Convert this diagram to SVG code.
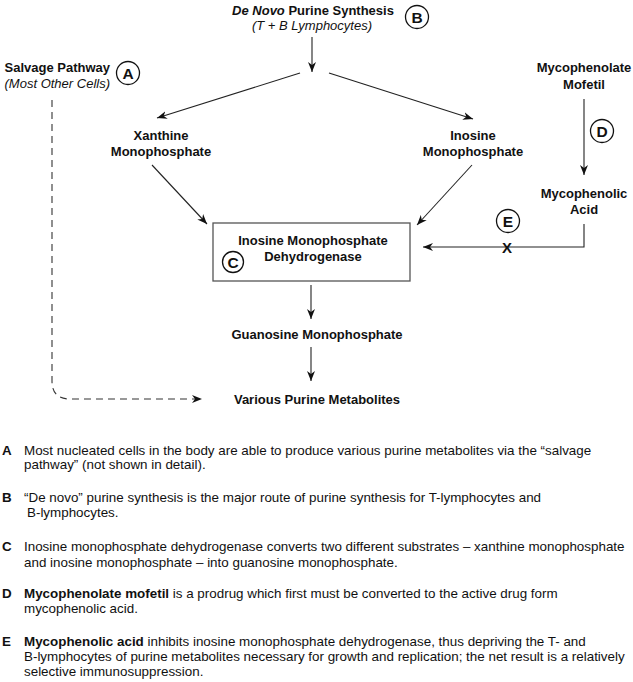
<svg xmlns="http://www.w3.org/2000/svg" width="633" height="682" viewBox="0 0 633 682">
<style>
text{font-family:"Liberation Sans",Arial,sans-serif;fill:#111}
.lb{font-size:13px;font-weight:bold}
.it{font-size:13px;font-style:italic}
.bd{font-size:13.4px}
.bl{font-size:13.4px;font-weight:bold}
.cl{font-size:15.5px;font-weight:bold;text-anchor:middle}
.mid{text-anchor:middle}
.circ{fill:#fff;stroke:#111;stroke-width:1.3}
.ln{fill:none;stroke:#222;stroke-width:1.1}
.dash{fill:none;stroke:#333;stroke-width:1.1;stroke-dasharray:7 5}
</style>
<defs>
<marker id="ah" viewBox="0 0 10 8" refX="10" refY="4" markerWidth="10" markerHeight="8" markerUnits="userSpaceOnUse" orient="auto">
<path d="M0,0 L10,4 L0,8 L3,4 z" fill="#111"/>
</marker>
</defs>
<g id="connectors">
<line class="ln" x1="312" y1="37" x2="312" y2="72" marker-end="url(#ah)"/>
<line class="ln" x1="300" y1="73" x2="157" y2="118" marker-end="url(#ah)"/>
<line class="ln" x1="329" y1="73" x2="473" y2="119" marker-end="url(#ah)"/>
<line class="ln" x1="152" y1="165" x2="207" y2="224" marker-end="url(#ah)"/>
<line class="ln" x1="472" y1="165" x2="417" y2="225" marker-end="url(#ah)"/>
<line class="ln" x1="584" y1="99" x2="584" y2="175" marker-end="url(#ah)"/>
<polyline class="ln" points="584,224 584,247 423,247" marker-end="url(#ah)"/>
<line class="ln" x1="311" y1="285" x2="311" y2="319" marker-end="url(#ah)"/>
<line class="ln" x1="311" y1="347" x2="311" y2="381" marker-end="url(#ah)"/>
<path class="dash" d="M52,100 L52,381 Q52,399 70,399 L202,399" marker-end="url(#ah)"/>
<text class="lb" x="507" y="253" style="font-size:15px" text-anchor="middle">X</text>
</g>
<g id="denovo">
<text class="lb mid" x="313" y="15"><tspan font-style="italic">De Novo</tspan> Purine Synthesis</text>
<text class="it mid" x="312" y="30">(T + B Lymphocytes)</text>
<circle class="circ" cx="417" cy="17" r="11.5"/>
<text class="cl" x="417" y="22.5">B</text>
</g>
<g id="salvage">
<text class="lb" x="110" y="72" text-anchor="end">Salvage Pathway</text>
<text class="it" x="110" y="88" text-anchor="end">(Most Other Cells)</text>
<circle class="circ" cx="128" cy="73" r="11.5"/>
<text class="cl" x="128" y="78.5">A</text>
</g>
<g id="mmf">
<text class="lb mid" x="584" y="72">Mycophenolate</text>
<text class="lb mid" x="584" y="89">Mofetil</text>
<circle class="circ" cx="602" cy="131" r="11.5"/>
<text class="cl" x="602" y="136.5">D</text>
</g>
<g id="xmp">
<text class="lb mid" x="161" y="140">Xanthine</text>
<text class="lb mid" x="161" y="156">Monophosphate</text>
</g>
<g id="imp">
<text class="lb mid" x="473" y="140">Inosine</text>
<text class="lb mid" x="473" y="156">Monophosphate</text>
</g>
<g id="mpa">
<text class="lb mid" x="584" y="198">Mycophenolic</text>
<text class="lb mid" x="584" y="214">Acid</text>
<circle class="circ" cx="508" cy="221" r="11.5"/>
<text class="cl" x="508" y="226.5">E</text>
</g>
<g id="impdh">
<rect x="213" y="223" width="197" height="58" fill="#fff" stroke="#555" stroke-width="1.3"/>
<text class="lb mid" x="313" y="245">Inosine Monophosphate</text>
<text class="lb mid" x="313" y="261">Dehydrogenase</text>
<circle class="circ" cx="233" cy="262" r="10.5"/>
<text class="cl" x="233" y="267.5">C</text>
</g>
<g id="gmp">
<text class="lb mid" x="317" y="339">Guanosine Monophosphate</text>
</g>
<g id="metabolites">
<text class="lb mid" x="317" y="404">Various Purine Metabolites</text>
</g>
<g id="legend">
<text class="bl" x="2" y="455">A</text>
<text class="bd" x="24" y="455">Most nucleated cells in the body are able to produce various purine metabolites via the “salvage</text>
<text class="bd" x="24" y="469">pathway” (not shown in detail).</text>
<text class="bl" x="2" y="502">B</text>
<text class="bd" x="24" y="502">“De novo” purine synthesis is the major route of purine synthesis for T-lymphocytes and</text>
<text class="bd" x="27" y="517">B-lymphocytes.</text>
<text class="bl" x="2" y="551">C</text>
<text class="bd" x="24" y="551">Inosine monophosphate dehydrogenase converts two different substrates – xanthine monophosphate</text>
<text class="bd" x="24" y="567">and inosine monophosphate – into guanosine monophosphate.</text>
<text class="bl" x="2" y="598">D</text>
<text class="bd" x="24" y="598"><tspan font-weight="bold">Mycophenolate mofetil</tspan> is a prodrug which first must be converted to the active drug form</text>
<text class="bd" x="24" y="613">mycophenolic acid.</text>
<text class="bl" x="2" y="646">E</text>
<text class="bd" x="24" y="646"><tspan font-weight="bold">Mycophenolic acid</tspan> inhibits inosine monophosphate dehydrogenase, thus depriving the T- and</text>
<text class="bd" x="24" y="661">B-lymphocytes of purine metabolites necessary for growth and replication; the net result is a relatively</text>
<text class="bd" x="24" y="676">selective immunosuppression.</text>
</g>
</svg>
